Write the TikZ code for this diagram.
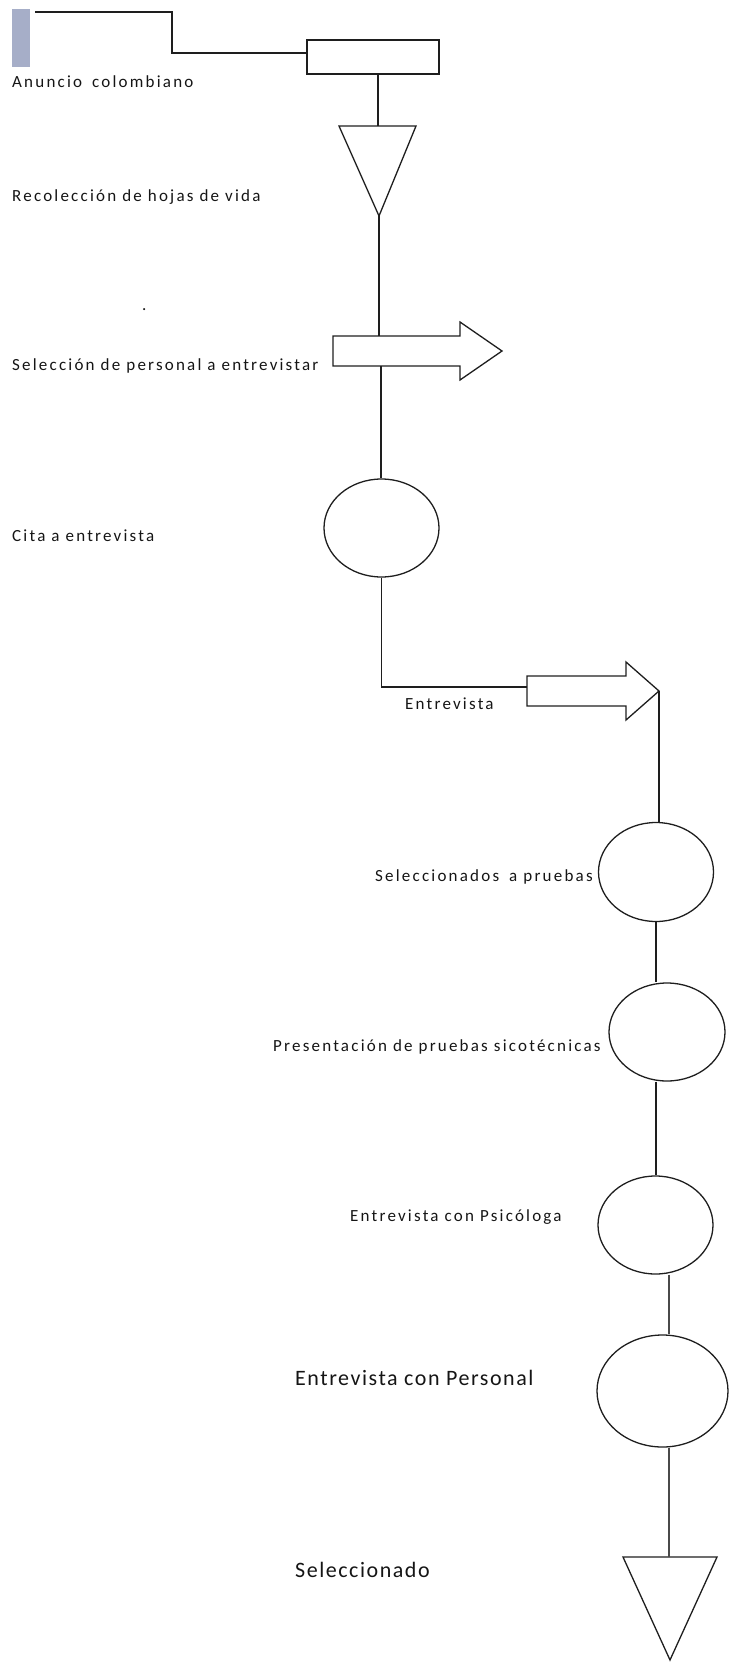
\documentclass[tikz,border=0pt]{standalone}
\usepackage{fontspec}
\setmainfont{Carlito}
\newfontfamily\lblA[LetterSpace=13]{Carlito}
\newfontfamily\lblB[LetterSpace=7]{Carlito}
\usetikzlibrary{shapes.geometric}
\definecolor{txt}{HTML}{151515}
\definecolor{ln}{HTML}{1E1E1E}
\definecolor{barblue}{HTML}{A6AEC8}
\definecolor{lngray}{HTML}{4A4A4A}
\begin{document}
\begin{tikzpicture}[x=1pt,y=-1pt,
  line/.style={draw=ln,line width=1.3pt},
  heavy/.style={draw=lngray,line width=2.2pt},
  shapeline/.style={draw=ln,line width=1.3pt,line join=miter},
  oval/.style={ellipse,draw=ln,line width=1.3pt,inner sep=0pt,minimum width=115pt,minimum height=98pt},
  lblsmall/.style={anchor=base west,inner sep=0pt,text=txt,font=\lblA\fontsize{17}{20}\selectfont},
  lblbig/.style={anchor=base west,inner sep=0pt,text=txt,font=\lblB\fontsize{22}{26}\selectfont}
]
\useasboundingbox (0,0) rectangle (728,1662);

% marker bar
\fill[barblue] (12,9) rectangle (30,67);

% nodes
\node[draw=ln,line width=1.3pt,minimum width=132pt,minimum height=34pt,inner sep=0pt] (anuncio) at (373,57) {};
\node[oval] (cita) at (381.5,528) {};
\node[oval,minimum height=99pt] (selp) at (656,872) {};
\node[oval,minimum width=116pt] (pres) at (667,1032) {};
\node[oval] (psic) at (655.5,1225) {};
\node[oval,minimum width=131pt,minimum height=112pt] (pers) at (662.5,1391) {};

% triangles and arrows (drawn shapes)
\coordinate (t1l) at (339,126);
\coordinate (t1r) at (416,126);
\coordinate (t1a) at (379,216);
\coordinate (t1top) at (378,126);
\draw[shapeline] (t1l) -- (t1r) -- (t1a) -- cycle;

\coordinate (a1top) at (379,336);
\coordinate (a1bot) at (381,366);
\draw[shapeline] (333,336) -- (460,336) -- (460,322) -- (502,351) -- (460,380) -- (460,366) -- (333,366) -- cycle;

\coordinate (a2in) at (527,687);
\coordinate (a2tip) at (659,691);
\draw[shapeline] (527,676) -- (626,676) -- (626,662) -- (a2tip) -- (626,720) -- (626,706) -- (527,706) -- cycle;

\coordinate (t2top) at (669,1557);
\coordinate (colB) at (669,0);
\draw[shapeline] (623,1557) -- (717,1557) -- (670,1660) -- cycle;

% connectors
\coordinate (start) at (35,12);
\coordinate (bend) at (172,12);
\draw[line] (start) -- (bend) |- ([yshift=4pt]anuncio.west);
\draw[line] (anuncio.south -| t1top) -- (t1top);
\draw[line] (t1a) -- (a1top);
\draw[line] (a1bot) -- (a1bot |- cita.north);
\draw[line] (cita.south) |- (a2in);
\draw[line] (a2tip) -- (a2tip |- selp.north);
\draw[line] (selp.south) -- (selp.south |- pres.north);
\draw[line] (selp.south |- pres.south) -- (selp.south |- psic.north);
\draw[heavy] (psic.south -| colB) -- (pers.north -| colB);
\draw[heavy] (pers.south -| colB) -- (t2top);

% labels
\node[lblsmall] (lAnuncio) at (12,87) {Anuncio\hspace{4pt} colombiano};
\node[lblsmall] (lRecol) at (12,201) {Recolección de hojas de vida};
\node[lblsmall] (lDot) at (142,310) {.};
\node[lblsmall] (lSelec) at (12,370) {Selección de personal a entrevistar};
\node[lblsmall] (lCita) at (12,541) {Cita a entrevista};
\node[lblsmall] (lEntr) at (405,709) {Entrevista};
\node[lblsmall] (lSelP) at (375,881) {Seleccionados\hspace{4pt} a pruebas};
\node[lblsmall] (lPres) at (273,1051) {Presentación de pruebas sicotécnicas};
\node[lblsmall] (lPsic) at (350,1221) {Entrevista con Psicóloga};
\node[lblbig] (lPers) at (295,1385) {Entrevista con Personal};
\node[lblbig] (lSeld) at (295,1577) {Seleccionado};
\end{tikzpicture}
\end{document}
